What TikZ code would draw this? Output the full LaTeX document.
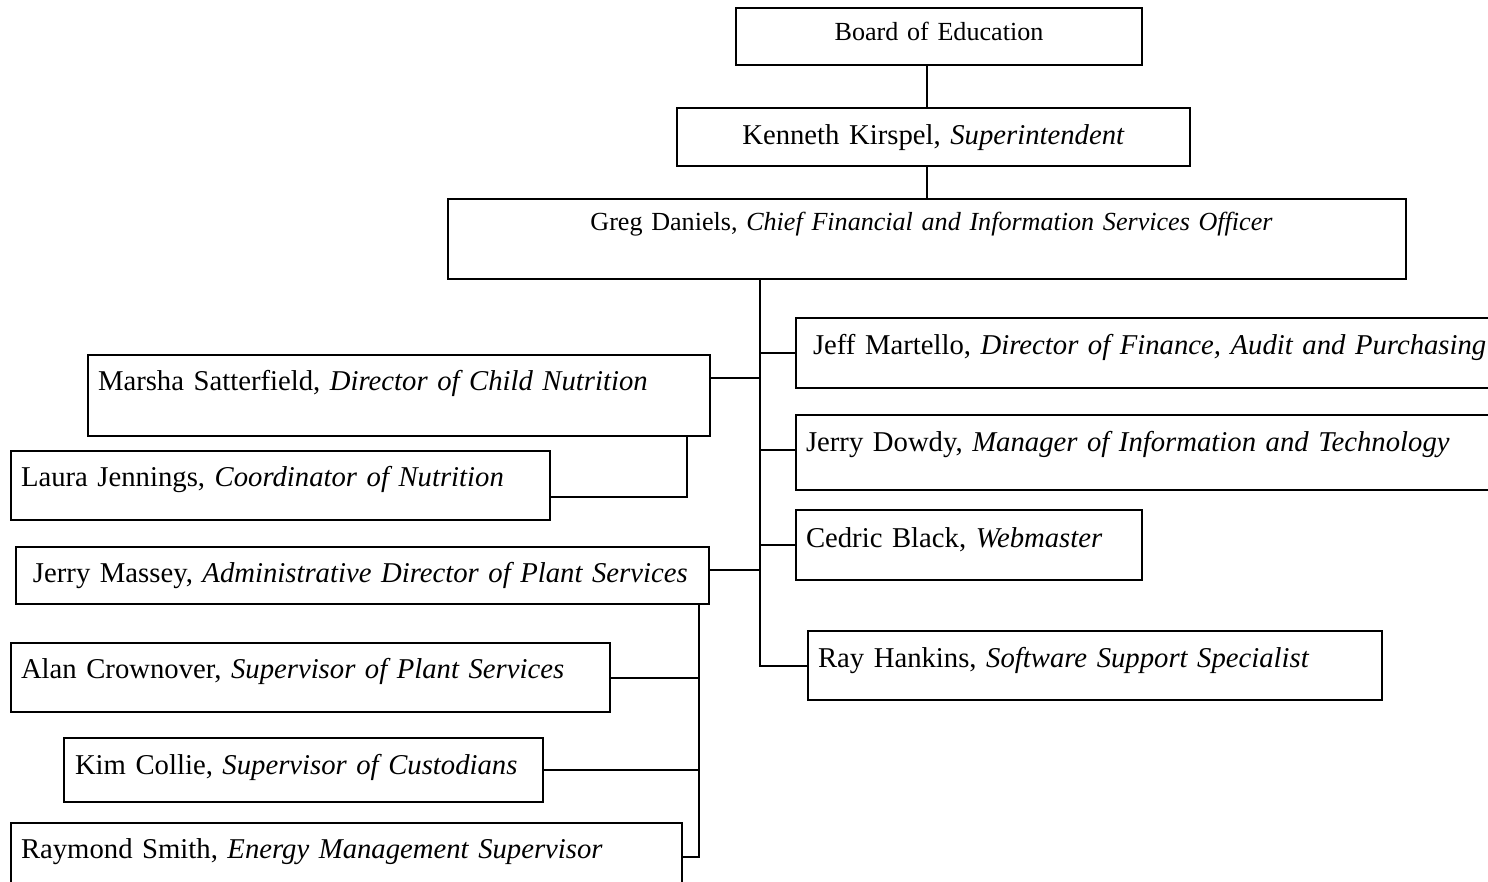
\documentclass[tikz,border=0pt]{standalone}
\usepackage{fontspec}
\setmainfont{Liberation Serif}
\tikzset{
  box/.style={rectangle, draw, line width=1pt, inner sep=0pt, outer sep=0pt, anchor=north west, align=left, font=\fontsize{14.35}{17}\selectfont},
  head/.style={box, align=center, font=\fontsize{13.05}{16}\selectfont},
  lead/.style={execute at begin node={\hspace*{#1}}},
  link/.style={line width=1pt}
}
\begin{document}
\begin{tikzpicture}[x=0.5pt, y=-0.5pt]
\path[use as bounding box, fill=white] (0,0) rectangle (1488,882);
\clip (0,0) rectangle (1488,882);
\coordinate (spine) at (927,0);
\coordinate (trunk) at (760,0);
\coordinate (plant) at (699,0);

\node[head, text width=203pt, text height=16.5pt, text depth=12pt] (board) at (736,8) {Board of Education};
\node[head, font=\fontsize{14.35}{17}\selectfont, text width=256.5pt, text height=18.5pt, text depth=10.5pt] (kirspel) at (677,108) {Kenneth Kirspel, \textit{Superintendent}};
\node[head, text width=479pt, text height=16pt, text depth=24pt] (daniels) at (448,199) {\hspace*{4.5pt}Greg Daniels, \textit{Chief Financial and Information Services Officer}};

\node[box, lead=8.5pt, text width=362pt, text height=18pt, text depth=17pt] (martello) at (796,318) {Jeff Martello, \textit{Director of Finance, Audit and Purchasing}};
\node[box, lead=5pt, text width=362pt, text height=18pt, text depth=19.5pt] (dowdy) at (796,415) {Jerry Dowdy, \textit{Manager of Information and Technology}};
\node[box, lead=5pt, text width=173pt, text height=18.5pt, text depth=16.5pt] (black) at (796,510) {Cedric Black, \textit{Webmaster}};
\node[box, lead=5pt, text width=287pt, text height=18pt, text depth=16.5pt] (hankins) at (808,631) {Ray Hankins, \textit{Software Support Specialist}};

\node[box, lead=5pt, text width=311pt, text height=17.5pt, text depth=23pt] (satterfield) at (88,355) {Marsha Satterfield, \textit{Director of Child Nutrition}};
\node[box, lead=5pt, text width=269.5pt, text height=17.5pt, text depth=17pt] (jennings) at (11,451) {Laura Jennings, \textit{Coordinator of Nutrition}};
\node[box, lead=8.5pt, text width=346.5pt, text height=17.5pt, text depth=11pt] (massey) at (16,547) {Jerry Massey, \textit{Administrative Director of Plant Services}};
\node[box, lead=5pt, text width=299.5pt, text height=17.5pt, text depth=17pt] (crownover) at (11,643) {Alan Crownover, \textit{Supervisor of Plant Services}};
\node[box, lead=5.5pt, text width=239.5pt, text height=18pt, text depth=14pt] (collie) at (64,738) {Kim Collie, \textit{Supervisor of Custodians}};
\node[box, lead=5pt, text width=335.5pt, text height=17.5pt, text depth=38.5pt] (smith) at (11,823) {Raymond Smith, \textit{Energy Management Supervisor}};

\draw[link] (board.south -| spine) -- (kirspel.north -| spine);
\draw[link] (kirspel.south -| spine) -- (daniels.north -| spine);
\draw[link] (daniels.south -| trunk) |- (hankins.west);
\draw[link] (martello.west) -- (martello.west -| trunk);
\draw[link] ([yshift=1.5pt]dowdy.west) -- ([yshift=1.5pt]dowdy.west -| trunk);
\draw[link] (black.west) -- (black.west -| trunk);
\draw[link] ([yshift=-11.5pt]satterfield.north east) -- ([yshift=-11.5pt]satterfield.north east -| trunk);
\draw[link] ([yshift=-5.5pt]jennings.east) -| ([xshift=-11.5pt]satterfield.south east);
\draw[link] ([yshift=3pt]massey.east) -- ([yshift=3pt]massey.east -| trunk);
\draw[link] (massey.south -| plant) |- ([yshift=-17pt]smith.north east);
\draw[link] (crownover.east) -- (crownover.east -| plant);
\draw[link] (collie.east) -- (collie.east -| plant);
\end{tikzpicture}
\end{document}
